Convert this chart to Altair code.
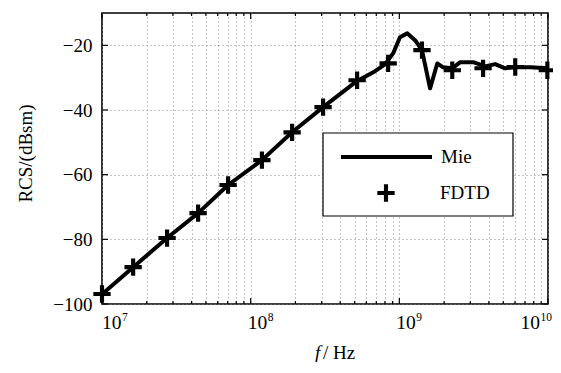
import altair as alt
import pandas as pd

# ---- data ----
mie_f = [1.0e7, 1.62e7, 2.74e7, 4.43e7, 7.05e7, 1.19e8, 1.90e8, 3.07e8, 5.20e8, 6.87e8,
         8.0e8, 9.08e8, 1.01e9, 1.13e9, 1.28e9, 1.42e9, 1.61e9, 1.80e9, 1.97e9, 2.27e9,
         2.57e9, 3.14e9, 3.78e9, 4.41e9, 5.15e9, 6.02e9, 7.59e9, 1.0e10]
mie_rcs = [-97.0, -88.6, -79.6, -71.9, -63.2, -55.5, -46.9, -39.1, -31.0, -28.0,
           -25.9, -22.5, -17.5, -16.3, -18.5, -21.5, -33.3, -25.6, -26.8, -27.1,
           -25.2, -25.2, -26.5, -25.8, -27.1, -26.8, -26.8, -27.1]

fdtd_f = [1.0e7, 1.62e7, 2.74e7, 4.43e7, 7.05e7, 1.19e8, 1.90e8, 3.07e8, 5.20e8, 8.41e8,
          1.42e9, 2.27e9, 3.66e9, 6.02e9, 9.9e9]
fdtd_rcs = [-96.9, -88.6, -79.6, -71.9, -63.2, -55.5, -46.9, -39.1, -30.8, -25.6,
            -21.5, -27.7, -27.1, -26.7, -27.7]

x_major = [1e7, 1e8, 1e9, 1e10]
x_exp = ["7", "8", "9", "10"]
x_minor = [k * m for m in [1e7, 1e8, 1e9] for k in range(2, 10)]
y_ticks = [-100, -80, -60, -40, -20]

W, H = 446, 291
FONT = "Liberation Serif, Times New Roman, Times, serif"
FS = 19
PLUS = "M-1,-0.24L-0.24,-0.24L-0.24,-1L0.24,-1L0.24,-0.24L1,-0.24L1,0.24L0.24,0.24L0.24,1L-0.24,1L-0.24,0.24L-1,0.24Z"

mie = pd.DataFrame({"f": mie_f, "rcs": mie_rcs})
fdtd = pd.DataFrame({"f": fdtd_f, "rcs": fdtd_rcs})
xmaj = pd.DataFrame({"f": x_major, "e": x_exp})
xmin = pd.DataFrame({"f": x_minor})
yt = pd.DataFrame({"rcs": y_ticks})

xscale = alt.Scale(type="log", domain=[1e7, 1e10], nice=False)
yscale = alt.Scale(domain=[-100, -10], nice=False, zero=False)

x_axis = alt.Axis(
    values=sorted(x_major + x_minor), labels=False, grid=True,
    gridDash=[1, 3], gridColor="#8a8a8a", gridWidth=1, domain=False, ticks=False, tickSize=0,
    title=None,
)
y_axis = alt.Axis(
    values=y_ticks, grid=True, gridDash=[1, 3], gridColor="#8a8a8a", gridWidth=1,
    domain=False, ticks=False, tickSize=0, labelFont=FONT, labelFontSize=FS,
    labelColor="black", labelPadding=10, title="RCS/(dBsm)", titleFont=FONT,
    titleFontSize=FS, titleFontWeight="normal", titleColor="black",
    titleX=-77, titleY=140, titleAngle=270, titleAlign="center", titleBaseline="middle",
)

line = alt.Chart(mie).mark_line(color="black", strokeWidth=4, strokeJoin="round").encode(
    x=alt.X("f:Q", scale=xscale, axis=x_axis),
    y=alt.Y("rcs:Q", scale=yscale, axis=y_axis),
)
pts = alt.Chart(fdtd).mark_point(shape=PLUS, filled=True, size=300, color="black", opacity=1).encode(
    x=alt.X("f:Q", scale=xscale), y=alt.Y("rcs:Q", scale=yscale)
)

def xticks(df, length):
    b = alt.Chart(df).mark_rule(color="black", strokeWidth=1.2).encode(
        x=alt.X("f:Q", scale=xscale), y=alt.value(H), y2=alt.value(H - length))
    t = alt.Chart(df).mark_rule(color="black", strokeWidth=1.2).encode(
        x=alt.X("f:Q", scale=xscale), y=alt.value(0), y2=alt.value(length))
    return b + t

yl = alt.Chart(yt).mark_rule(color="black", strokeWidth=1.2).encode(
    y=alt.Y("rcs:Q", scale=yscale), x=alt.value(0), x2=alt.value(6))
yr = alt.Chart(yt).mark_rule(color="black", strokeWidth=1.2).encode(
    y=alt.Y("rcs:Q", scale=yscale), x=alt.value(W), x2=alt.value(W - 6))

# x tick labels as 10 with raised exponent
def xlab(test, align, base_dx, exp_dx):
    src = alt.Chart(xmaj).transform_filter(test)
    base = src.mark_text(text="10", font=FONT, fontSize=19.5, align=align, baseline="alphabetic",
                         dx=base_dx, color="black").encode(
        x=alt.X("f:Q", scale=xscale), y=alt.value(H + 25))
    exp = src.mark_text(font=FONT, fontSize=11.5, align=align, baseline="alphabetic",
                        dx=exp_dx, color="black").encode(
        x=alt.X("f:Q", scale=xscale), y=alt.value(H + 17), text="e:N")
    return base + exp

labs = (xlab("datum.f < 2e7", "left", 0, 20)
        + xlab("datum.f > 2e7 && datum.f < 5e9", "left", -3, 17)
        + xlab("datum.f > 5e9", "right", -8, 4))

one = alt.Data(values=[{"a": 1}])
leg_box = alt.Chart(one).mark_rect(fill="white", stroke="black", strokeWidth=1.2).encode(
    x=alt.value(221), x2=alt.value(411), y=alt.value(120), y2=alt.value(203))
leg_line = alt.Chart(one).mark_rule(color="black", strokeWidth=4).encode(
    x=alt.value(239), x2=alt.value(330), y=alt.value(144))
leg_pt = alt.Chart(one).mark_point(shape=PLUS, filled=True, size=300, color="black", opacity=1).encode(
    x=alt.value(284), y=alt.value(180))
leg_t1 = alt.Chart(one).mark_text(text="Mie", font=FONT, fontSize=FS, align="left",
                                  baseline="alphabetic", color="black").encode(
    x=alt.value(339), y=alt.value(150))
leg_t2 = alt.Chart(one).mark_text(text="FDTD", font=FONT, fontSize=FS, align="left",
                                  baseline="alphabetic", color="black").encode(
    x=alt.value(338), y=alt.value(186))

xt1 = alt.Chart(one).mark_text(text="f", font=FONT, fontSize=FS, fontStyle="italic",
                               align="left", baseline="alphabetic", color="black").encode(
    x=alt.value(213), y=alt.value(346))
xt2 = alt.Chart(one).mark_text(text="/ Hz", font=FONT, fontSize=FS, align="left",
                               baseline="alphabetic", color="black").encode(
    x=alt.value(221), y=alt.value(346))

chart = alt.layer(
    line, pts, xticks(xmaj, 6), xticks(xmin, 3), yl, yr, labs,
    leg_box, leg_line, leg_pt, leg_t1, leg_t2, xt1, xt2,
).properties(
    width=W, height=H,
    autosize=alt.AutoSizeParams(type="none"),
    padding={"left": 94, "top": 5, "right": 5, "bottom": 58},
    background="white",
).configure_view(stroke="black", strokeWidth=1.6)

chart.save("out.html", embed_options={"renderer": "svg", "actions": False})
